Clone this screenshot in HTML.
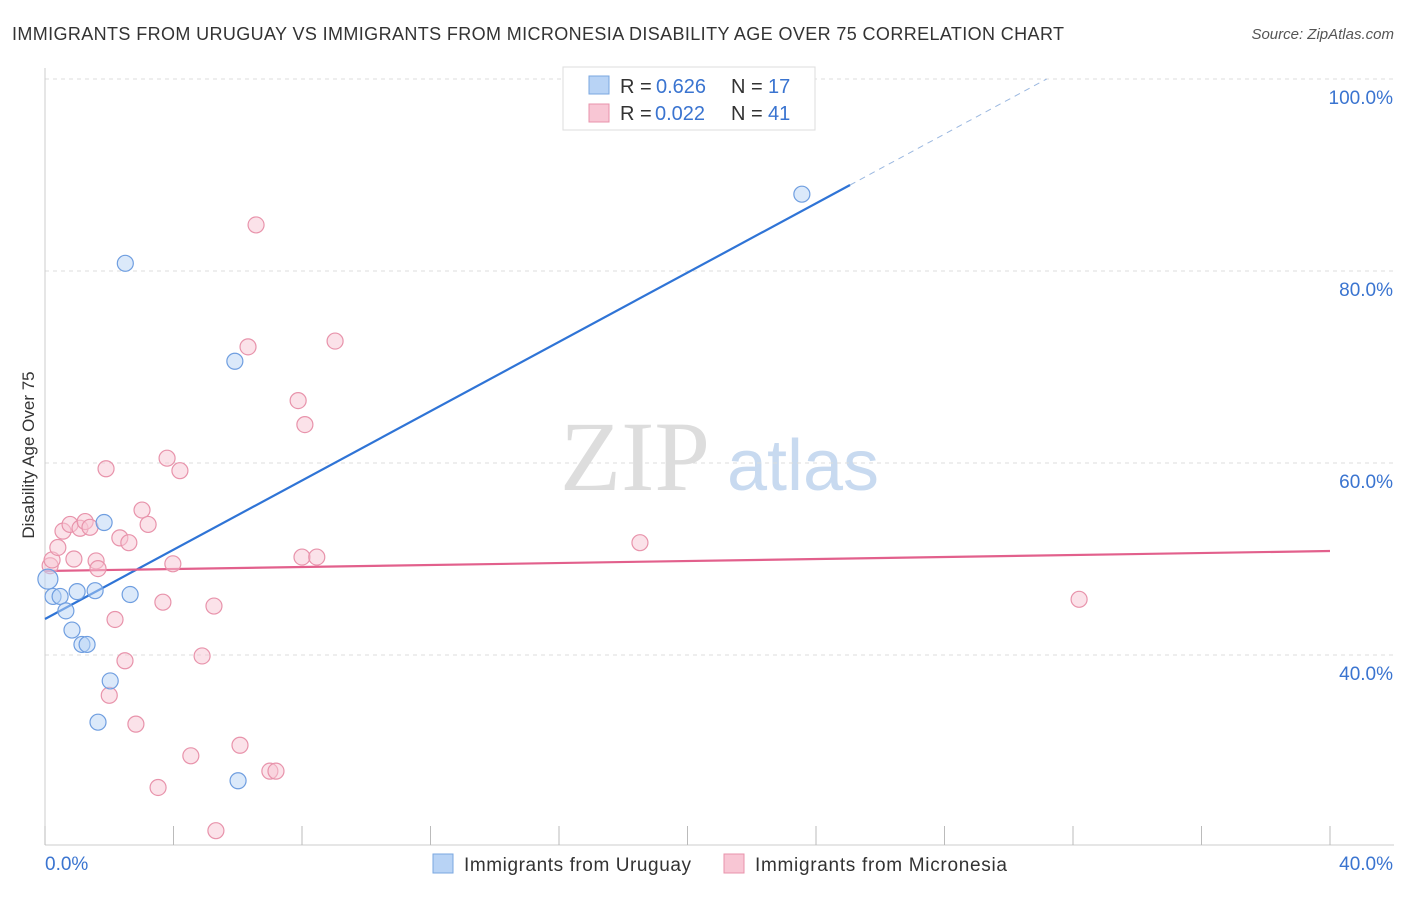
<!DOCTYPE html>
<html><head><meta charset="utf-8">
<style>
body{margin:0;background:#fff;font-family:"Liberation Sans",sans-serif;}
</style></head>
<body>
<svg id="chart" width="1406" height="892" xmlns="http://www.w3.org/2000/svg" font-family="Liberation Sans, sans-serif">
<text x="12" y="40" font-size="18" fill="#333" textLength="1052" lengthAdjust="spacing">IMMIGRANTS FROM URUGUAY VS IMMIGRANTS FROM MICRONESIA DISABILITY AGE OVER 75 CORRELATION CHART</text>
<text x="1394" y="39" font-size="15" fill="#555" font-style="italic" text-anchor="end">Source: ZipAtlas.com</text>
<text x="34" y="455" font-size="17" fill="#333" text-anchor="middle" transform="rotate(-90 34 455)">Disability Age Over 75</text>
<g>
<text x="635" y="490" font-size="100" fill="#ddd" style="font-family:'Liberation Serif',serif" text-anchor="middle">ZIP</text>
<text x="803" y="490" font-size="72" fill="#c8daf0" text-anchor="middle">atlas</text>
</g>
<g id="grid"></g><g id="axes"></g><g id="lines"></g><g id="points"></g>
<g>
<rect x="563" y="67" width="252" height="63" fill="#fff" stroke="#ddd"/>
<rect x="589" y="76" width="20" height="18" fill="#b8d3f5" stroke="#7aa7e0"/>
<text x="620" y="93" font-size="20" fill="#333">R =</text>
<text x="656" y="93" font-size="20" fill="#3a74d0">0.626</text>
<text x="731" y="93" font-size="20" fill="#333">N =</text>
<text x="768" y="93" font-size="20" fill="#3a74d0">17</text>
<rect x="589" y="104" width="20" height="18" fill="#f8c6d4" stroke="#e893ab"/>
<text x="620" y="120" font-size="20" fill="#333">R =</text>
<text x="655" y="120" font-size="20" fill="#3a74d0">0.022</text>
<text x="731" y="120" font-size="20" fill="#333">N =</text>
<text x="768" y="120" font-size="20" fill="#3a74d0">41</text>
</g>
<g>
<rect x="433" y="854" width="20" height="19" fill="#b8d3f5" stroke="#7aa7e0"/>
<text x="464" y="871" font-size="19" fill="#333" textLength="227">Immigrants from Uruguay</text>
<rect x="724" y="854" width="20" height="19" fill="#f8c6d4" stroke="#e893ab"/>
<text x="755" y="871" font-size="19" fill="#333" textLength="252">Immigrants from Micronesia</text>
</g>
</svg>
<script>
const xTicks=[0,4,8,12,16,20,24,28,32,36,40];
const yTicks=[40,60,80,100];
const yTickLabels=["40.0%","60.0%","80.0%","100.0%"];
const uruguayX=[0.09,0.25,0.47,0.65,0.84,1.0,1.15,1.31,1.56,1.65,1.84,2.03,2.5,2.65,5.91,6.01,23.56];
const uruguayY=[47.9,46.1,46.1,44.6,42.6,46.6,41.1,41.1,46.7,33.0,53.8,37.3,80.8,46.3,70.6,26.9,88.0];
const micronesiaX=[0.16,0.22,0.4,0.56,0.78,0.9,1.09,1.25,1.4,1.59,1.65,1.9,2.0,2.18,2.33,2.49,2.61,2.83,3.02,3.21,3.52,3.67,3.8,3.98,4.2,4.54,4.89,5.26,5.32,6.07,6.32,6.57,7.0,7.19,7.88,8.0,8.09,8.46,9.03,18.52,32.19];
const micronesiaY=[49.3,49.9,51.2,52.9,53.6,50.0,53.2,53.9,53.3,49.8,49.0,59.4,35.8,43.7,52.2,39.4,51.7,32.8,55.1,53.6,26.2,45.5,60.5,49.5,59.2,29.5,39.9,45.1,21.7,30.6,72.1,84.8,27.9,27.9,66.5,50.2,64.0,50.2,72.7,51.7,45.8];
const uruguayFit=[43.75,1.804];
const micronesiaFit=[48.75,0.052];
const NS="http://www.w3.org/2000/svg";
const X=v=>45+v*32.125, Y=v=>1039-v*9.6;
function mk(t,a,p){const e=document.createElementNS(NS,t);for(const k in a)e.setAttribute(k,a[k]);p.appendChild(e);return e;}
const grid=document.getElementById('grid'),axes=document.getElementById('axes'),lines=document.getElementById('lines'),pts=document.getElementById('points');
yTicks.forEach((t,i)=>{
 const g=mk('line',{x1:45,x2:1394,y1:Y(t),y2:Y(t),stroke:'#ddd','stroke-dasharray':'4,4'},grid);
 
 
 const tx=mk('text',{x:1393,y:Y(t)+25,'font-size':19,fill:'#3a74d0','text-anchor':'end'},axes);
 tx.textContent=yTickLabels[i];
 
 
});
mk('line',{x1:45,x2:45,y1:68,y2:845,stroke:'#ccc'},axes);
mk('line',{x1:45,x2:1394,y1:845,y2:845,stroke:'#ccc'},axes);
xTicks.forEach(t=>{
 const l=mk('line',{x1:X(t),x2:X(t),y1:826,y2:845,stroke:'#bbb'},axes);
 
 
});
const x0=mk('text',{x:45,y:870,'font-size':19,fill:'#3a74d0'},axes);x0.textContent='0.0%';


const x1=mk('text',{x:1393,y:870,'font-size':19,fill:'#3a74d0','text-anchor':'end'},axes);x1.textContent='40.0%';


function pt(xs,ys,fill,stroke,name){xs.forEach((x,i)=>{const c=mk('circle',{cx:X(x),cy:Y(ys[i]),r:i==0&&name=='uruguay-point'?10:8,fill:fill,stroke:stroke,'stroke-width':1.2,'fill-opacity':0.5},pts);
 
 });}
pt(micronesiaX,micronesiaY,'#f8c6d4','#e893ab','micronesia-point');
pt(uruguayX,uruguayY,'#b8d3f5','#6f9ee0','uruguay-point');
const xe=25.06, xd=(100-uruguayFit[0])/uruguayFit[1];
const bl=mk('line',{x1:X(0),y1:Y(uruguayFit[0]),x2:X(xe),y2:Y(uruguayFit[0]+uruguayFit[1]*xe),stroke:'#2f74d6','stroke-width':2.2},lines);


const bd=mk('line',{x1:X(xe),y1:Y(uruguayFit[0]+uruguayFit[1]*xe),x2:X(xd),y2:Y(100),stroke:'#9bb8e0','stroke-width':1,'stroke-dasharray':'6,5'},lines);


const pl=mk('line',{x1:X(0),y1:Y(micronesiaFit[0]),x2:X(40),y2:Y(micronesiaFit[0]+micronesiaFit[1]*40),stroke:'#e2608c','stroke-width':2.2},lines);


</script>
</body></html>
